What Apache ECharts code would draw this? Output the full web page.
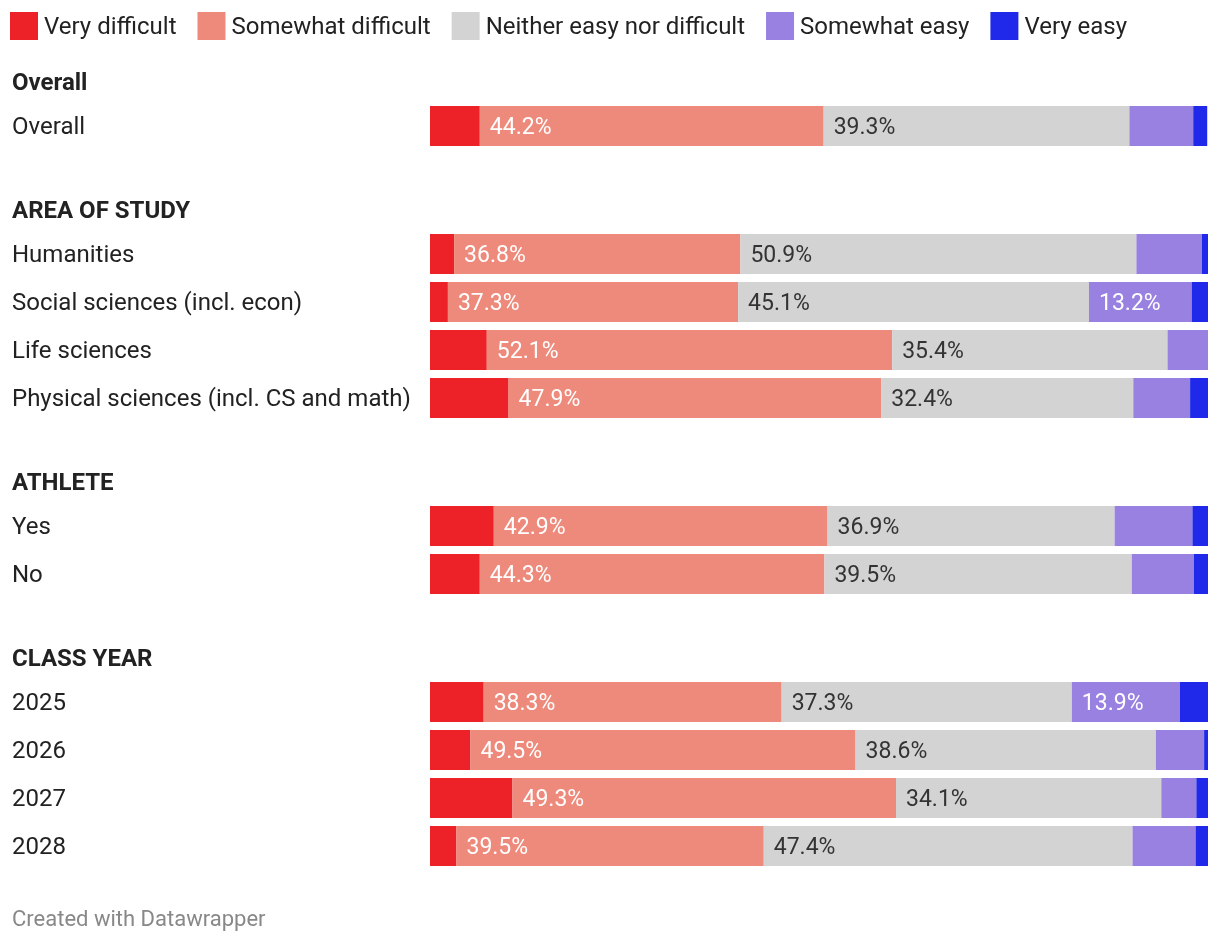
<!DOCTYPE html>
<html>
<head>
<meta charset="utf-8">
<script src="https://cdn.jsdelivr.net/npm/echarts@6/dist/echarts.min.js"></script>
<style>
  html, body { margin: 0; padding: 0; background: #fff; }
  #chart { width: 1220px; height: 944px; }
</style>
</head>
<body>
<div id="chart"></div>
<script>
// ---- data ----
const levels = ['Very difficult', 'Somewhat difficult', 'Neither easy nor difficult', 'Somewhat easy', 'Very easy'];
const levelColors = ['#EC2228', '#EE8A7B', '#D3D3D3', '#9881E1', '#2029E9'];
const groupTitles = ['Overall', 'AREA OF STUDY', 'ATHLETE', 'CLASS YEAR'];
const groupOverall = ['Overall'];
const groupArea = ['Humanities', 'Social sciences (incl. econ)', 'Life sciences', 'Physical sciences (incl. CS and math)'];
const groupAthlete = ['Yes', 'No'];
const groupClass = ['2025', '2026', '2027', '2028'];
// row order: Overall, Humanities, Social, Life, Physical, Yes, No, 2025, 2026, 2027, 2028
const veryDifficult      = [6.4, 3.1, 2.3, 7.3, 10.1, 8.2, 6.4, 6.9, 5.2, 10.6, 3.4];
const somewhatDifficult  = [44.2, 36.8, 37.3, 52.1, 47.9, 42.9, 44.3, 38.3, 49.5, 49.3, 39.5];
const neitherEasyNorDiff = [39.3, 50.9, 45.1, 35.4, 32.4, 36.9, 39.5, 37.3, 38.6, 34.1, 47.4];
const somewhatEasy       = [8.2, 8.4, 13.2, 5.2, 7.3, 10.0, 8.0, 13.9, 6.2, 4.5, 8.1];
const veryEasy           = [1.8, 0.8, 2.1, 0.0, 2.3, 2.0, 1.8, 3.6, 0.5, 1.5, 1.6];
const footerText = 'Created with Datawrapper';

// ---- layout ----
const levelValues = [veryDifficult, somewhatDifficult, neitherEasyNorDiff, somewhatEasy, veryEasy];
const groups = [groupOverall, groupArea, groupAthlete, groupClass];
const FONT = 'Roboto';
const ROW = 48;
const gridTops = [102, 230, 502, 678];
const headerY = [84, 212, 484, 660];
const labelColors = ['#ffffff', '#ffffff', '#333333', '#ffffff', '#ffffff'];

const grid = [], xAxis = [], yAxis = [], series = [];
let offset = 0;
groups.forEach((cats, gi) => {
  grid.push({ left: 430, right: 12, top: gridTops[gi], height: ROW * cats.length, containLabel: false });
  xAxis.push({ gridIndex: gi, type: 'value', min: 0, max: 100, show: false });
  yAxis.push({
    gridIndex: gi, type: 'category', data: cats, inverse: true,
    axisLine: { show: false }, axisTick: { show: false }, splitLine: { show: false },
    axisLabel: {
      align: 'left', margin: 418,
      formatter: v => '{a|' + v + '}',
      rich: { a: { fontFamily: FONT, fontSize: 24, color: '#222222', padding: [4, 0, 0, 0] } }
    }
  });
  levels.forEach((lv, li) => {
    series.push({
      name: lv, type: 'bar', stack: 'g' + gi, xAxisIndex: gi, yAxisIndex: gi,
      barWidth: 40,
      itemStyle: { color: levelColors[li] },
      emphasis: { disabled: true },
      label: {
        show: true, position: 'insideLeft', distance: 10, offset: [0, 2],
        fontFamily: FONT, fontSize: 23, color: labelColors[li],
        formatter: p => (p.value >= 11 ? p.value.toFixed(1) + '%' : '')
      },
      data: levelValues[li].slice(offset, offset + cats.length)
    });
  });
  offset += cats.length;
});

const graphic = groupTitles.map((t, i) => ({
  type: 'text', x: 12, y: headerY[i],
  style: { text: t, font: 'bold 24px ' + FONT, fill: '#222222', verticalAlign: 'middle' }
}));
graphic.push({
  type: 'text', x: 12, y: 920,
  style: { text: footerText, font: '22px ' + FONT, fill: '#888888', verticalAlign: 'middle' }
});

const chart = echarts.init(document.getElementById('chart'), null, { renderer: 'canvas' });
chart.setOption({
  animation: false,
  backgroundColor: '#ffffff',
  legend: {
    data: levels, left: 10, top: 12, padding: 0,
    itemWidth: 28, itemHeight: 28, itemGap: 21, icon: 'rect',
    selectedMode: false,
    formatter: n => '{a|' + n + '}',
    textStyle: {
      fontFamily: FONT, fontSize: 24, color: '#222222',
      rich: { a: { fontFamily: FONT, fontSize: 24, color: '#222222', padding: [4, 0, 0, 1] } }
    }
  },
  grid, xAxis, yAxis, series, graphic
});
</script>
</body>
</html>
